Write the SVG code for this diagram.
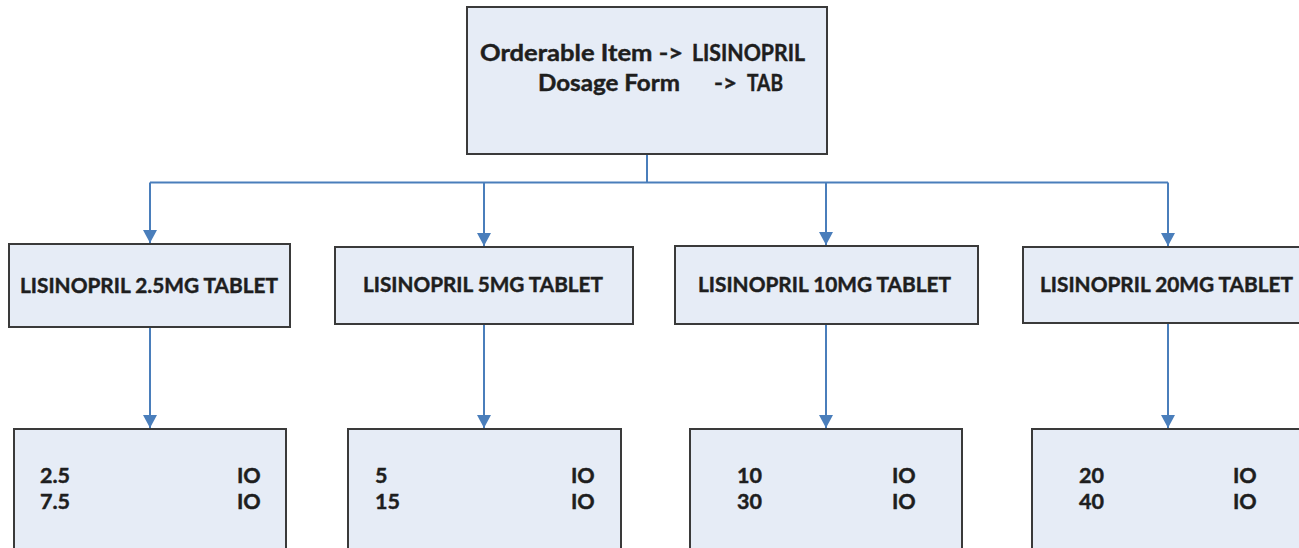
<svg xmlns="http://www.w3.org/2000/svg" width="1299" height="548" viewBox="0 0 1299 548">
<style>
.box{fill:#e6ecf6;stroke:#3a3a3a;stroke-width:2}
.t{font-family:Lato,"Liberation Sans",sans-serif;font-weight:bold;fill:#1e1e1e;stroke:#1e1e1e;stroke-width:0.45px}
.top{font-size:23.5px}
.ti{font-size:21px}
.num{font-size:21.5px}
.ln{fill:none;stroke:#4a7ebb;stroke-width:2}
</style>
<defs>
<marker id="ah" markerUnits="userSpaceOnUse" markerWidth="16" markerHeight="14" refX="13" refY="7" orient="auto">
<path d="M0,0 L13,7 L0,14 Z" fill="#4a7ebb"/>
</marker>
</defs>
<rect width="1299" height="548" fill="#ffffff"/>
<g id="connectors">
<path class="ln" d="M647,155 V182.5"/>
<path class="ln" d="M150,182.5 H1168"/>
<path class="ln" d="M150,182.5 V243" marker-end="url(#ah)"/>
<path class="ln" d="M484,182.5 V246" marker-end="url(#ah)"/>
<path class="ln" d="M826,182.5 V245" marker-end="url(#ah)"/>
<path class="ln" d="M1168,182.5 V246" marker-end="url(#ah)"/>
<path class="ln" d="M150,328 V428" marker-end="url(#ah)"/>
<path class="ln" d="M484,325 V428" marker-end="url(#ah)"/>
<path class="ln" d="M826,325 V428" marker-end="url(#ah)"/>
<path class="ln" d="M1168,324 V428" marker-end="url(#ah)"/>
</g>
<g id="root">
<rect class="box" x="467" y="7" width="360" height="147"/>
<text class="t top" y="61"><tspan x="480" textLength="203" lengthAdjust="spacingAndGlyphs">Orderable Item -&gt;</tspan><tspan x="692" textLength="113" lengthAdjust="spacingAndGlyphs">LISINOPRIL</tspan></text>
<text class="t top" y="91"><tspan x="538" textLength="142" lengthAdjust="spacingAndGlyphs">Dosage Form</tspan><tspan x="714" textLength="23" lengthAdjust="spacingAndGlyphs">-&gt;</tspan><tspan x="747" textLength="36" lengthAdjust="spacingAndGlyphs">TAB</tspan></text>
</g>
<g id="tab25">
<rect class="box" x="9" y="244" width="281" height="83"/>
<text class="t ti" x="20" y="293" textLength="258" lengthAdjust="spacingAndGlyphs">LISINOPRIL 2.5MG TABLET</text>
</g>
<g id="tab5">
<rect class="box" x="335" y="247" width="298" height="77"/>
<text class="t ti" x="363" y="292" textLength="240" lengthAdjust="spacingAndGlyphs">LISINOPRIL 5MG TABLET</text>
</g>
<g id="tab10">
<rect class="box" x="675" y="246" width="303" height="78"/>
<text class="t ti" x="698" y="292" textLength="253" lengthAdjust="spacingAndGlyphs">LISINOPRIL 10MG TABLET</text>
</g>
<g id="tab20">
<rect class="box" x="1023" y="247" width="290" height="76"/>
<text class="t ti" x="1040" y="292" textLength="253" lengthAdjust="spacingAndGlyphs">LISINOPRIL 20MG TABLET</text>
</g>
<g id="dose25">
<rect class="box" x="14" y="429" width="272" height="130"/>
<text class="t num" x="40" y="483">2.5</text>
<text class="t num" x="40" y="509">7.5</text>
<text class="t num" x="237" y="483">IO</text>
<text class="t num" x="237" y="509">IO</text>
</g>
<g id="dose5">
<rect class="box" x="348" y="429" width="273" height="130"/>
<text class="t num" x="375" y="483">5</text>
<text class="t num" x="375" y="509">15</text>
<text class="t num" x="571" y="483">IO</text>
<text class="t num" x="571" y="509">IO</text>
</g>
<g id="dose10">
<rect class="box" x="690" y="429" width="272" height="130"/>
<text class="t num" x="737" y="483">10</text>
<text class="t num" x="737" y="509">30</text>
<text class="t num" x="892" y="483">IO</text>
<text class="t num" x="892" y="509">IO</text>
</g>
<g id="dose20">
<rect class="box" x="1032" y="429" width="280" height="130"/>
<text class="t num" x="1079" y="483">20</text>
<text class="t num" x="1079" y="509">40</text>
<text class="t num" x="1233" y="483">IO</text>
<text class="t num" x="1233" y="509">IO</text>
</g>
</svg>
